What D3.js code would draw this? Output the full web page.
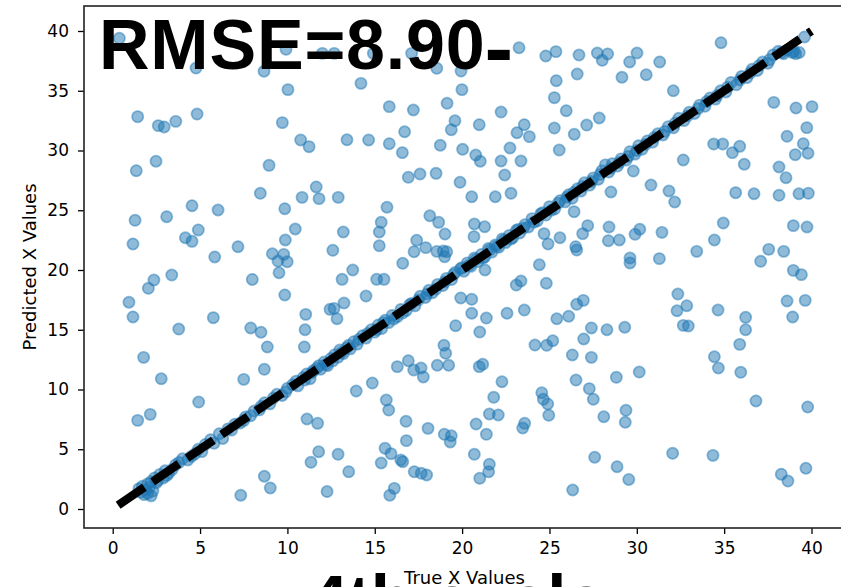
<!DOCTYPE html>
<html>
<head>
<meta charset="utf-8">
<script src="https://cdn.jsdelivr.net/npm/d3@7"></script>
<style>
  html, body { margin: 0; padding: 0; background: #fff; overflow: hidden; }
  svg { display: block; }
</style>
</head>
<body>
<svg id="chart" width="841" height="587"></svg>
<script>
// Tick values on both axes
const xTicks = [0, 5, 10, 15, 20, 25, 30, 35, 40];
const yTicks = [0, 5, 10, 15, 20, 25, 30, 35, 40];

// Predictions far from the truth: [true x, predicted x]
const scatteredPoints = [
  [0.38,39.39],[4.77,36.90],[8.66,36.63],[9.92,38.47],[12.00,38.13],[12.68,38.13],[14.92,38.13],[17.11,38.13],[18.55,36.88],[19.94,36.65],[23.26,38.60],[24.79,37.91],[25.37,38.27],[34.82,39.02],
  [1.43,32.83],[2.61,32.08],[2.95,31.97],[3.61,32.44],[4.83,33.05],[10.03,35.09],[9.71,32.33],[10.76,30.88],[11.24,30.32],[2.48,29.10],[1.35,28.31],[8.95,28.76],[8.45,26.42],[11.65,26.95],[10.84,26.08],[11.81,25.97],[9.85,25.13],[4.54,25.38],[6.03,25.02],[1.28,24.16],[3.09,24.46],[10.45,23.43],[4.90,23.35],[4.16,22.70],[4.54,22.40],[1.16,22.18],[9.88,22.51],[7.17,21.95],[5.84,21.09],[9.14,21.36],[9.79,21.31],[9.46,20.75],[9.99,20.69],[9.52,19.77],[2.36,19.16],[3.38,19.58],[7.99,19.21],
  [2.04,18.47],[9.85,17.91],[0.93,17.30],[1.16,16.07],[5.76,16.01],[3.78,15.06],[7.90,15.15],[8.49,14.79],[8.85,13.56],[11.05,16.29],[11.01,15.00],[10.97,13.56],[12.44,16.71],[1.77,12.69],[2.78,10.90],[8.68,11.69],[7.50,10.85],[4.92,8.95],[1.43,7.42],[2.15,7.92],[11.12,7.53],[11.73,7.17],[11.79,4.79],[11.35,3.91],[8.68,2.74],[9.02,1.76],[7.33,1.15],[12.27,1.46],
  [13.51,3.12],[15.37,3.85],[16.60,3.96],[17.26,3.12],[17.66,2.99],[17.97,2.85],[16.12,1.73],[15.86,1.15],[12.90,4.58],
  [21.01,2.57],[21.52,3.12],[21.56,3.74],[20.70,4.58],[26.33,1.59],[28.87,3.54],[29.54,2.47],[32.05,4.66],[34.36,4.49],[38.27,2.91],[38.65,2.34],[39.68,3.41],[27.59,4.33],
  [13.13,19.22],[13.74,20.00],[15.11,19.22],[15.53,19.22],[14.50,17.82],[12.67,16.79],[13.24,17.24],[12.84,15.92],[19.92,17.66],[20.55,17.55],[20.55,16.38],[21.39,15.98],[19.63,15.34],[21.01,14.81],[22.57,16.38],[23.56,16.65],[23.10,18.74],[23.37,19.08],[24.82,18.89],[25.42,15.92],[26.10,16.13],[26.56,17.13],[21.31,20.00],[24.17,13.72],[24.84,13.70],[25.19,14.08],[26.31,12.89],[26.52,10.79],[18.96,13.70],[19.06,13.03],[18.58,12.03],[19.23,12.03],[16.29,11.91],[16.92,12.41],[17.23,11.63],[17.65,11.80],[17.78,11.05],[20.98,11.91],[21.18,12.11],[14.86,10.54],[13.94,9.87],[15.66,9.12],[15.80,8.28],[16.79,7.34],[18.05,6.75],[18.98,6.25],[19.38,6.13],[19.32,5.61],[16.81,5.72],[15.59,5.08],[15.93,4.63],[16.49,4.10],[22.28,10.65],[21.81,9.35],[21.56,7.95],[22.07,7.87],[20.80,7.11],[21.39,6.25],[23.58,7.17],[23.47,6.78],[24.56,9.73],[24.65,9.18],[24.90,8.79],[24.96,7.84],
  [14.21,35.62],[19.99,35.09],[15.83,33.67],[17.21,33.39],[19.14,33.95],[19.59,32.49],[19.38,31.74],[20.98,32.16],[22.23,33.22],[25.39,35.84],[25.28,34.42],[25.96,33.33],[23.56,32.16],[23.14,31.49],[23.85,31.16],[25.28,31.88],[26.42,31.36],[13.41,30.90],[14.65,30.88],[15.83,30.57],[16.71,31.57],[16.58,29.82],[18.75,30.44],[20.03,30.10],[20.78,29.62],[21.04,29.10],[22.74,30.21],[22.23,29.12],[23.37,29.12],[25.56,30.04],[16.92,27.76],[17.59,28.03],[18.51,28.09],[19.88,27.34],[20.55,26.13],[21.90,26.13],[22.80,26.42],[22.44,27.95],[12.91,26.08],[15.70,25.25],[15.37,23.99],[15.26,23.18],[13.20,23.18],[12.60,21.65],[15.26,22.03],[18.15,24.54],[18.66,23.99],[19.02,23.01],[17.40,22.49],[17.92,21.87],[17.25,21.53],[18.55,21.56],[18.92,21.59],[19.12,21.53],[19.00,21.11],[16.60,20.56],[20.70,23.85],[21.29,23.62],[20.68,22.79],[24.42,20.44],[24.92,22.18],[25.60,22.70],[24.69,23.04],[26.41,24.88],
  [26.69,37.99],[27.74,38.16],[28.02,37.55],[28.33,38.08],[30.01,38.16],[29.59,37.41],[31.31,37.41],[26.59,36.40],[29.15,36.13],[30.54,36.34],[32.09,35.00],[37.84,34.03],[39.11,33.56],[40.03,33.67],[39.73,31.91],[38.60,31.19],[39.53,30.57],[39.07,29.65],[39.80,29.77],[38.14,28.62],[38.54,27.72],[39.28,26.38],[39.82,26.42],[38.14,26.25],[36.71,26.38],[35.66,26.47],[34.40,30.54],[34.92,30.54],[35.89,30.35],[35.47,29.82],[36.15,28.85],[32.66,29.21],[27.13,32.13],[27.85,32.72],[29.80,28.28],[28.52,26.53],[30.81,27.11],[31.84,26.61],[32.17,25.69],[27.19,23.71],[26.90,23.04],[28.41,23.60],[28.37,22.45],[29.00,22.51],[30.17,23.41],[29.90,22.99],[31.44,23.15],[34.95,23.93],[34.44,22.51],[38.96,23.71],[39.74,23.60],[26.50,21.95],[26.56,21.67],[29.61,21.00],[29.61,20.59],[31.29,20.95],[33.43,21.56],[37.55,21.73],[38.41,21.56],[37.09,20.73],[38.96,19.97],[39.42,19.61],
  [26.94,17.46],[27.40,15.15],[28.29,15.00],[29.31,15.21],[26.96,14.23],[27.40,12.69],[28.83,11.02],[30.14,11.46],[27.28,10.07],[27.51,9.18],[28.11,7.72],[29.38,8.26],[29.34,7.26],[32.35,17.99],[32.86,17.01],[32.30,16.59],[32.66,15.37],[32.95,15.31],[34.65,16.65],[36.23,16.04],[36.23,15.00],[35.89,13.78],[34.44,12.74],[34.67,11.80],[35.95,11.44],[36.82,9.04],[38.60,17.41],[39.64,17.46],[38.92,16.07],[39.78,8.54]
];

// Predictions close to the truth: [true x, predicted x]
const fittedPoints = [
  [1.6,1.4],[1.7,1.9],[1.8,1.2],[1.9,1.6],[2.0,2.1],[2.0,1.3],[2.1,1.8],[2.2,2.3],[2.3,1.5],[2.4,2.6],[2.5,2.2],[2.7,2.9],[2.9,2.6],[3.0,3.2],[3.1,2.8],[3.4,3.3],
  [3.8,3.9],[4.0,4.2],[4.3,4.1],[4.7,4.6],[4.9,5.0],[5.1,4.8],[5.3,5.4],
  [6.1,6.3],[6.3,5.9],[6.6,6.7],[7.0,7.1],[7.3,7.2],[7.6,7.7],[7.9,7.8],[8.1,8.2],[8.4,8.3],[8.7,8.9],[9.0,8.8],
  [9.4,9.6],[9.7,9.5],[10.0,10.1],[10.3,10.4],[10.6,10.3],[10.9,11.0],
  [11.1,11.3],[11.3,10.9],[11.5,11.6],[11.7,11.8],[11.9,11.7],[12.1,12.3],[12.3,12.0],[12.5,12.6],[12.7,12.9],[12.9,12.7],[13.0,13.3],[13.2,13.0],[13.4,13.5],[13.6,13.4],[13.8,14.0],[14.0,13.8],
  [14.3,14.5],[14.5,14.3],[14.8,15.0],[15.0,14.8],[15.2,15.4],[15.4,15.1],[15.6,15.8],[15.8,15.6],[16.0,16.2],[16.3,16.1],[16.5,16.7],[16.8,16.6],
  [17.1,17.2],[17.3,17.0],[17.6,17.8],[17.9,17.7],[18.1,18.3],[18.3,18.1],[18.6,18.8],[18.9,18.7],[19.1,19.3],[19.4,19.2],[19.6,19.8],[19.9,20.1],
  [20.1,19.9],[20.3,20.6],[20.5,20.3],[20.7,21.0],[20.9,20.7],[21.1,21.3],[21.3,21.1],[21.5,21.8],[21.7,21.5],[21.9,22.1],[22.1,21.9],[22.3,22.6],[22.5,22.3],[22.7,22.9],[22.9,22.7],
  [23.1,23.3],[23.3,23.1],[23.6,23.8],[23.8,23.6],[24.0,24.3],[24.3,24.1],[24.5,24.7],[24.8,24.6],[25.0,25.3],[25.3,25.1],[25.6,25.8],[25.9,25.7],
  [26.1,26.3],[26.3,26.0],[26.6,26.8],[26.8,26.6],[27.0,27.3],[27.3,27.1],[27.5,27.7],[27.8,27.6],[28.0,28.3],[28.2,28.8],[28.4,28.2],[28.6,28.9],[28.9,28.7],[29.1,29.3],[29.4,29.2],[29.6,29.9],[29.9,29.7],
  [30.1,30.4],[30.3,30.1],[30.6,30.8],[30.9,30.7],[31.2,31.4],[31.5,31.3],[31.8,32.0],[32.1,31.9],[32.4,32.7],[32.7,32.5],[33.0,33.2],[33.3,33.1],[33.6,33.8],[33.9,33.7],
  [34.2,34.4],[34.5,34.3],[34.8,35.0],[35.1,34.9],[35.4,35.7],[35.7,35.5],[36.0,36.2],[36.3,36.1],[36.6,36.8],[36.9,36.7],[37.2,37.4],[37.5,37.3],[37.8,38.0],
  [38.1,38.3],[38.4,38.1],[38.6,38.4],[38.9,38.2],[39.1,38.1],[39.3,38.2],[39.6,39.5],
  [1.5,1.7],[2.2,1.1],[2.6,2.4],[3.2,3.0],[3.6,3.7],[4.5,4.4],[5.6,5.8],[5.8,5.5],[6.8,6.6],[7.5,7.4],[8.5,8.6],[9.2,9.3],[9.9,9.8],[10.5,10.7],[11.0,10.8],[11.4,11.4],[11.8,12.0],[12.2,12.1],[12.6,12.4],[13.1,13.1],[13.5,13.7],[14.1,14.2],[14.6,14.7],[15.1,15.0],[15.5,15.6],[16.1,15.9],[16.6,16.4],[17.0,17.1],[17.5,17.5],[18.0,18.0],[18.5,18.4],[19.0,19.0],[19.5,19.6],[20.0,20.2],[20.4,20.4],[20.8,20.9],[21.2,21.0],[21.6,21.7],[22.0,22.0],[22.4,22.5],[22.8,22.6],[23.2,23.4],[23.5,23.5],[24.1,24.0],[24.6,24.8],[25.1,25.0],[25.5,25.6],[26.0,26.1],[26.4,26.5],[26.9,27.0],[27.4,27.4],[27.9,28.0],[28.5,28.5],[29.0,29.0],[29.5,29.5],[30.0,30.0],[30.5,30.5],[31.0,31.1],[31.6,31.6],[32.2,32.3],[32.9,32.9],[33.5,33.5],[34.0,34.1],[34.6,34.6],[35.2,35.3],[35.9,35.9],[36.5,36.5],[37.0,37.1],[37.6,37.6],[38.3,38.2],[39.0,38.3]
];

// Ideal prediction line (y = x) over the range of true values
const identityRange = [0.31, 40.0];

const rmseText = "RMSE=8.90";
const rmseTail = "-";
const stageText = "4th cycle";
const xAxisTitle = "True X Values";
const yAxisTitle = "Predicted X Values";

const plot = { left: 84, right: 845, top: 6, bottom: 528 };
const svg = d3.select("#chart");

const x = d3.scaleLinear().domain([-1.643, 41.917]).range([plot.left, plot.right]);
const y = d3.scaleLinear().domain([-1.590, 42.092]).range([plot.bottom, plot.top]);

svg.append("defs").append("clipPath").attr("id", "plot-clip")
  .append("rect")
  .attr("x", plot.left).attr("y", plot.top)
  .attr("width", plot.right - plot.left).attr("height", plot.bottom - plot.top);

const body = svg.append("g").attr("clip-path", "url(#plot-clip)");
const blue = "#1f77b4";

body.append("g").selectAll("circle")
  .data(scatteredPoints.concat(fittedPoints))
  .join("circle")
  .attr("cx", d => x(d[0]))
  .attr("cy", d => y(d[1]))
  .attr("r", 5.6)
  .attr("fill", blue).attr("fill-opacity", 0.5)
  .attr("stroke", blue).attr("stroke-opacity", 0.5)
  .attr("stroke-width", 1.7);

body.append("line")
  .attr("x1", x(identityRange[0])).attr("y1", y(identityRange[0]))
  .attr("x2", x(identityRange[1])).attr("y2", y(identityRange[1]))
  .attr("stroke", "#000").attr("stroke-width", 8.5)
  .attr("stroke-dasharray", "31.8,10");

// Axes
const tickFont = "'DejaVu Sans', sans-serif";
const xAxis = svg.append("g")
  .attr("transform", `translate(0,${plot.bottom})`)
  .call(d3.axisBottom(x).tickValues(xTicks).tickSize(6).tickPadding(8).tickFormat(d3.format("d")));
const yAxis = svg.append("g")
  .attr("transform", `translate(${plot.left},0)`)
  .call(d3.axisLeft(y).tickValues(yTicks).tickSize(6).tickPadding(9).tickFormat(d3.format("d")));

[xAxis, yAxis].forEach(g => {
  g.select(".domain").remove();
  g.selectAll(".tick line").attr("stroke", "#000").attr("stroke-width", 1.3);
  g.selectAll(".tick text").attr("fill", "#000")
    .style("font-family", tickFont).style("font-size", "17px");
});

// Spines
svg.append("rect")
  .attr("x", plot.left).attr("y", plot.top)
  .attr("width", plot.right - plot.left).attr("height", plot.bottom - plot.top)
  .attr("fill", "none").attr("stroke", "#222").attr("stroke-width", 1.6);

svg.append("text")
  .attr("x", (plot.left + plot.right) / 2).attr("y", 583.5)
  .attr("text-anchor", "middle")
  .style("font-family", tickFont).style("font-size", "18px")
  .text(xAxisTitle);

svg.append("text")
  .attr("transform", `translate(35.5,${(plot.top + plot.bottom) / 2}) rotate(-90)`)
  .attr("text-anchor", "middle")
  .style("font-family", tickFont).style("font-size", "18px")
  .text(yAxisTitle);

// Headline annotations
const headline = svg.append("text")
  .attr("x", 99).attr("y", 69)
  .style("font-family", "'Liberation Sans', Arial, sans-serif")
  .style("font-weight", "bold").style("font-size", "70px")
  .style("letter-spacing", "0.8px")
  .attr("fill", "#000");
headline.append("tspan").text(rmseText);
headline.append("tspan")
  .attr("dy", 7.5).attr("dx", -1)
  .style("font-size", "86px")
  .text(rmseTail);

svg.append("text")
  .attr("x", 309.5).attr("y", 623)
  .style("font-family", "'Liberation Sans', Arial, sans-serif")
  .style("font-weight", "bold").style("font-size", "69px")
  .attr("fill", "#000")
  .text(stageText);
</script>
</body>
</html>
